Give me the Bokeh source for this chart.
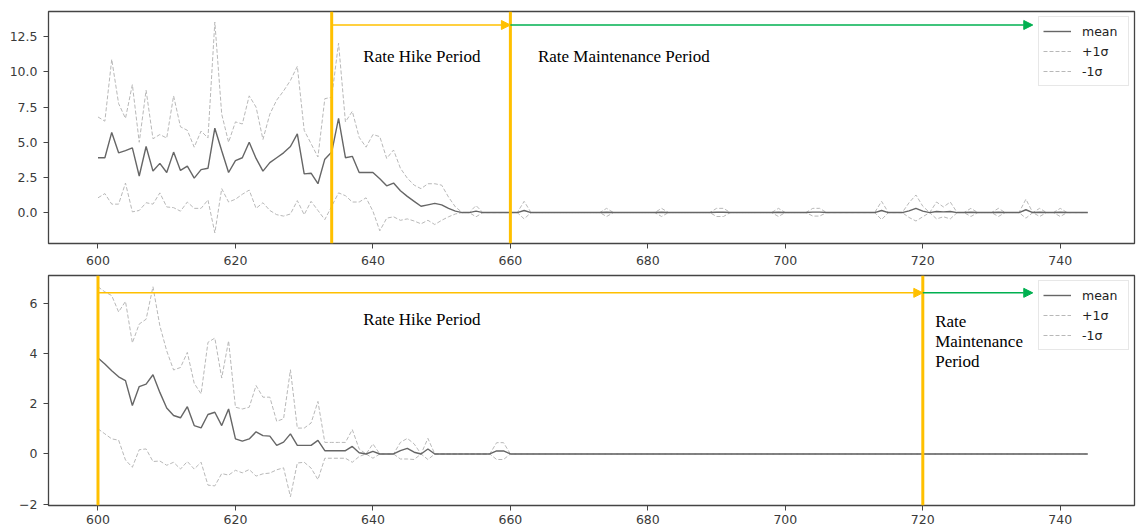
from bokeh.plotting import figure
from bokeh.layouts import column
from bokeh.models import (Range1d, FixedTicker, Span, Arrow, NormalHead, Label,
                          Legend, LegendItem)
from bokeh.embed import file_html
from bokeh.resources import INLINE

# ---------------------------------------------------------------- data
DAYS = list(range(600, 745))

# upper panel: mean with +/- one standard deviation
TOP_MEAN = [
    3.9, 3.9, 5.7, 4.25, 4.4, 4.6, 2.6, 4.7, 2.95, 3.5,
    2.85, 4.3, 3.0, 3.3, 2.45, 3.05, 3.15, 6.0, 4.4, 2.85,
    3.7, 3.9, 5.0, 3.85, 2.95, 3.55, 3.9, 4.25, 4.7, 5.6,
    2.75, 2.8, 2.05, 3.8, 4.3, 6.7, 3.9, 4.0, 2.85, 2.85,
    2.85, 2.4, 1.9, 2.1, 1.55, 1.15, 0.8, 0.45, 0.55, 0.65,
    0.55, 0.3, 0.1, 0, 0, 0.1, 0, 0, 0, 0,
    0, 0, 0.15, 0, 0, 0, 0, 0, 0, 0,
    0, 0, 0, 0, 0.02, 0, 0, 0, 0, 0,
    0, 0, 0.02, 0, 0, 0, 0, 0, 0, 0,
    0.02, 0.02, 0, 0, 0, 0, 0, 0, 0, 0.02,
    0, 0, 0, 0, 0.03, 0.03, 0, 0, 0, 0,
    0, 0, 0, 0, 0.15, 0, 0, 0, 0.12, 0.3,
    0.1, 0, 0.08, 0.05, 0.08, 0, 0, 0.02, 0, 0,
    0, 0.02, 0, 0, 0, 0.2, 0, 0.02, 0, 0,
    0.02, 0, 0, 0, 0,
]
TOP_PLUS = [
    6.8, 6.5, 10.9, 7.75, 6.7, 9.1, 5.0, 8.7, 5.25, 5.55,
    5.3, 8.3, 6.1, 5.85, 4.65, 5.8, 5.3, 13.55, 7.0, 5.0,
    6.45, 6.3, 8.3, 7.5, 5.2, 7.0, 8.0, 8.65, 9.4, 10.4,
    5.85, 4.9, 3.95, 8.1, 8.2, 12.05, 6.45, 7.2, 5.35, 4.65,
    5.55, 5.4, 3.85, 4.45, 3.15, 2.45, 1.95, 1.7, 2.05, 2.05,
    1.95, 1.1, 0.4, 0, 0, 0.5, 0, 0, 0, 0,
    0, 0, 0.8, 0, 0, 0, 0, 0, 0, 0,
    0, 0, 0, 0, 0.3, 0, 0, 0, 0, 0,
    0, 0, 0.3, 0, 0, 0, 0, 0, 0, 0,
    0.3, 0.3, 0, 0, 0, 0, 0, 0, 0, 0.3,
    0, 0, 0, 0, 0.3, 0.3, 0, 0, 0, 0,
    0, 0, 0, 0, 0.8, 0, 0, 0, 0.7, 1.25,
    0.45, 0, 0.75, 0.4, 0.75, 0, 0, 0.3, 0, 0,
    0, 0.3, 0, 0, 0, 0.95, 0, 0.3, 0, 0,
    0.3, 0, 0, 0, 0,
]
TOP_MINUS = [
    1.05, 1.35, 0.6, 0.6, 2.1, 0.05, 0.15, 0.7, 0.6, 1.4,
    0.4, 0.35, 0.1, 0.75, 0.3, 0.3, 0.9, -1.45, 1.7, 0.75,
    0.95, 1.3, 1.6, 0.3, 0.7, 0.15, -0.15, -0.25, -0.1, 0.85,
    -0.15, 0.8, 0.15, -0.5, 0.45, 1.4, 1.2, 0.75, 0.75, 1.05,
    0.1, -1.3, -0.4, -0.3, -0.55, -0.45, -0.6, -0.8, -0.55, -0.85,
    -0.55, -0.3, -0.1, 0, 0, -0.3, 0, 0, 0, 0,
    0, 0, -0.45, 0, 0, 0, 0, 0, 0, 0,
    0, 0, 0, 0, -0.28, 0, 0, 0, 0, 0,
    0, 0, -0.28, 0, 0, 0, 0, 0, 0, 0,
    -0.28, -0.28, 0, 0, 0, 0, 0, 0, 0, -0.28,
    0, 0, 0, 0, -0.25, -0.25, 0, 0, 0, 0,
    0, 0, 0, 0, -0.5, 0, 0, 0, -0.35, -0.6,
    -0.3, 0, -0.45, -0.3, -0.45, 0, 0, -0.28, 0, 0,
    0, -0.28, 0, 0, 0, -0.4, 0, -0.28, 0, 0,
    -0.28, 0, 0, 0, 0,
]

# lower panel
BOT_MEAN = [
    3.82, 3.58, 3.31, 3.07, 2.92, 1.93, 2.68, 2.78, 3.15, 2.45,
    1.83, 1.53, 1.44, 1.88, 1.13, 1.04, 1.57, 1.66, 1.13, 1.79,
    0.6, 0.51, 0.6, 0.88, 0.73, 0.71, 0.34, 0.47, 0.8, 0.34,
    0.34, 0.34, 0.54, 0.13, 0.13, 0.13, 0.13, 0.3, 0.05, 0,
    0.1, 0, 0, 0, 0.13, 0.22, 0.07, 0, 0.2, 0,
    0, 0, 0, 0, 0, 0, 0, 0, 0.12, 0.12,
    0, 0, 0, 0, 0, 0, 0, 0, 0, 0,
    0, 0, 0, 0, 0, 0, 0, 0, 0, 0,
    0, 0, 0, 0, 0, 0, 0, 0, 0, 0,
    0, 0, 0, 0, 0, 0, 0, 0, 0, 0,
    0, 0, 0, 0, 0, 0, 0, 0, 0, 0,
    0, 0, 0, 0, 0, 0, 0, 0, 0, 0,
    0, 0, 0, 0, 0, 0, 0, 0, 0, 0,
    0, 0, 0, 0, 0, 0, 0, 0, 0, 0,
    0, 0, 0, 0, 0,
]
BOT_PLUS = [
    6.65, 6.45, 6.3, 5.65, 6.07, 4.42, 5.17, 5.36, 6.65, 5.1,
    4.1, 3.34, 3.44, 4.04, 2.81, 2.39, 4.44, 4.61, 3.02, 4.5,
    1.86, 1.79, 1.86, 2.72, 2.26, 2.26, 1.3, 1.4, 3.35, 1.03,
    1.03, 1.23, 2.09, 0.46, 0.46, 0.46, 0.46, 0.97, 0.2, 0,
    0.4, 0, 0, 0, 0.46, 0.62, 0.4, 0, 0.62, 0,
    0, 0, 0, 0, 0, 0, 0, 0, 0.45, 0.45,
    0, 0, 0, 0, 0, 0, 0, 0, 0, 0,
    0, 0, 0, 0, 0, 0, 0, 0, 0, 0,
    0, 0, 0, 0, 0, 0, 0, 0, 0, 0,
    0, 0, 0, 0, 0, 0, 0, 0, 0, 0,
    0, 0, 0, 0, 0, 0, 0, 0, 0, 0,
    0, 0, 0, 0, 0, 0, 0, 0, 0, 0,
    0, 0, 0, 0, 0, 0, 0, 0, 0, 0,
    0, 0, 0, 0, 0, 0, 0, 0, 0, 0,
    0, 0, 0, 0, 0,
]
BOT_MINUS = [
    1.0, 0.8, 0.6, 0.55, -0.24, -0.53, 0.17, 0.2, -0.3, -0.28,
    -0.45, -0.33, -0.6, -0.3, -0.6, -0.33, -1.24, -1.27, -0.78, -0.84,
    -0.65, -0.75, -0.62, -0.88, -0.79, -0.76, -0.63, -0.55, -1.7, -0.36,
    -0.33, -0.56, -1.02, -0.17, -0.17, -0.17, -0.17, -0.33, -0.1, 0,
    -0.17, 0, 0, 0, -0.2, -0.2, -0.22, 0, -0.22, 0,
    0, 0, 0, 0, 0, 0, 0, 0, -0.22, -0.22,
    0, 0, 0, 0, 0, 0, 0, 0, 0, 0,
    0, 0, 0, 0, 0, 0, 0, 0, 0, 0,
    0, 0, 0, 0, 0, 0, 0, 0, 0, 0,
    0, 0, 0, 0, 0, 0, 0, 0, 0, 0,
    0, 0, 0, 0, 0, 0, 0, 0, 0, 0,
    0, 0, 0, 0, 0, 0, 0, 0, 0, 0,
    0, 0, 0, 0, 0, 0, 0, 0, 0, 0,
    0, 0, 0, 0, 0, 0, 0, 0, 0, 0,
    0, 0, 0, 0, 0,
]

X_TICKS = [600, 620, 640, 660, 680, 700, 720, 740]
X_LABELS = ["600", "620", "640", "660", "680", "700", "720", "740"]
TOP_Y_TICKS = [0, 2.5, 5, 7.5, 10, 12.5]
TOP_Y_LABELS = ["0.0", "2.5", "5.0", "7.5", "10.0", "12.5"]
BOT_Y_TICKS = [-2, 0, 2, 4, 6]
BOT_Y_LABELS = ["\u22122", "0", "2", "4", "6"]

# period boundaries (day index) for the annotations
TOP_HIKE_START, TOP_MAINT_START = 634, 660
BOT_HIKE_START, BOT_MAINT_START = 600, 720
PERIOD_END = 736

# ---------------------------------------------------------------- style
YELLOW = "#FFC000"
GREEN = "#00B050"
MEAN_COLOR = "#666666"
SD_COLOR = "#b8b8b8"
AXIS_COLOR = "#444444"
TICK_FONT = "DejaVu Sans"
SERIF = "Liberation Serif"


def panel(mean, plus, minus, y_lo, y_hi, y_ticks, y_labels,
          border_top, frame_h, border_bottom, x_standoff):
    p = figure(frame_width=1086, frame_height=frame_h,
               x_range=Range1d(592.8, 750.8), y_range=Range1d(y_lo, y_hi),
               output_backend="svg", toolbar_location=None,
               min_border_left=48, min_border_right=2,
               min_border_top=border_top, min_border_bottom=border_bottom,
               background_fill_color="white", border_fill_color="white")
    p.xgrid.visible = False
    p.ygrid.visible = False
    p.outline_line_color = AXIS_COLOR
    p.outline_line_width = 1.3

    r_plus = p.line(DAYS, plus, line_color=SD_COLOR, line_width=1,
                    line_dash="4 2")
    r_minus = p.line(DAYS, minus, line_color=SD_COLOR, line_width=1,
                     line_dash="4 2")
    r_mean = p.line(DAYS, mean, line_color=MEAN_COLOR, line_width=1.4)

    for ax in (p.xaxis[0], p.yaxis[0]):
        ax.axis_line_color = None
        ax.major_tick_line_color = AXIS_COLOR
        ax.major_tick_out = 5
        ax.major_tick_in = 0
        ax.minor_tick_line_color = None
        ax.major_label_text_font = TICK_FONT
        ax.major_label_text_font_size = "12.5px"
        ax.major_label_text_color = "#3a3a3a"
    p.xaxis.ticker = FixedTicker(ticks=X_TICKS)
    p.xaxis.major_label_overrides = dict(zip(X_TICKS, X_LABELS))
    p.xaxis.major_label_standoff = x_standoff
    p.yaxis.ticker = FixedTicker(ticks=y_ticks)
    p.yaxis.major_label_overrides = dict(zip(y_ticks, y_labels))
    p.yaxis.major_label_standoff = 6

    legend = Legend(items=[LegendItem(label="mean", renderers=[r_mean]),
                           LegendItem(label="+1\u03c3", renderers=[r_plus]),
                           LegendItem(label="-1\u03c3", renderers=[r_minus])],
                    location="top_right", margin=5, padding=4, spacing=0,
                    glyph_width=28, glyph_height=20, label_height=20,
                    label_width=42, label_standoff=11,
                    label_text_font=TICK_FONT, label_text_font_size="12.5px",
                    label_text_color="#222222",
                    border_line_color="#d0d0d0", border_line_width=1,
                    background_fill_color="white", background_fill_alpha=0.85)
    p.add_layout(legend)
    return p


def period_marks(p, hike_start, maint_start, arrow_y):
    for loc in (hike_start, maint_start):
        p.add_layout(Span(location=loc, dimension="height",
                          line_color=YELLOW, line_width=3))
    p.add_layout(Arrow(end=NormalHead(size=9, fill_color=YELLOW,
                                      line_color=YELLOW),
                       x_start=hike_start, y_start=arrow_y,
                       x_end=maint_start, y_end=arrow_y,
                       line_color=YELLOW, line_width=1.5))
    p.add_layout(Arrow(end=NormalHead(size=9, fill_color=GREEN,
                                      line_color=GREEN),
                       x_start=maint_start, y_start=arrow_y,
                       x_end=PERIOD_END, y_end=arrow_y,
                       line_color=GREEN, line_width=1.5))


def note(p, x, y, text):
    p.add_layout(Label(x=x, y=y, text=text, text_font=SERIF,
                       text_font_size="17px", text_color="black",
                       text_baseline="alphabetic", text_align="left"))


top = panel(TOP_MEAN, TOP_PLUS, TOP_MINUS, -2.2, 14.3,
            TOP_Y_TICKS, TOP_Y_LABELS, 11, 232, 27, 7)
period_marks(top, TOP_HIKE_START, TOP_MAINT_START, 13.34)
note(top, 638.6, 11.07, "Rate Hike Period")
note(top, 664.0, 11.07, "Rate Maintenance Period")

bottom = panel(BOT_MEAN, BOT_PLUS, BOT_MINUS, -2.05, 7.1,
               BOT_Y_TICKS, BOT_Y_LABELS, 5, 230, 24, 4)
period_marks(bottom, BOT_HIKE_START, BOT_MAINT_START, 6.41)
note(bottom, 638.6, 5.35, "Rate Hike Period")
note(bottom, 721.8, 5.27, "Rate")
note(bottom, 721.8, 4.46, "Maintenance")
note(bottom, 721.8, 3.66, "Period")

layout = column(top, bottom, spacing=0)
open("out.html", "w").write(file_html(layout, INLINE))
